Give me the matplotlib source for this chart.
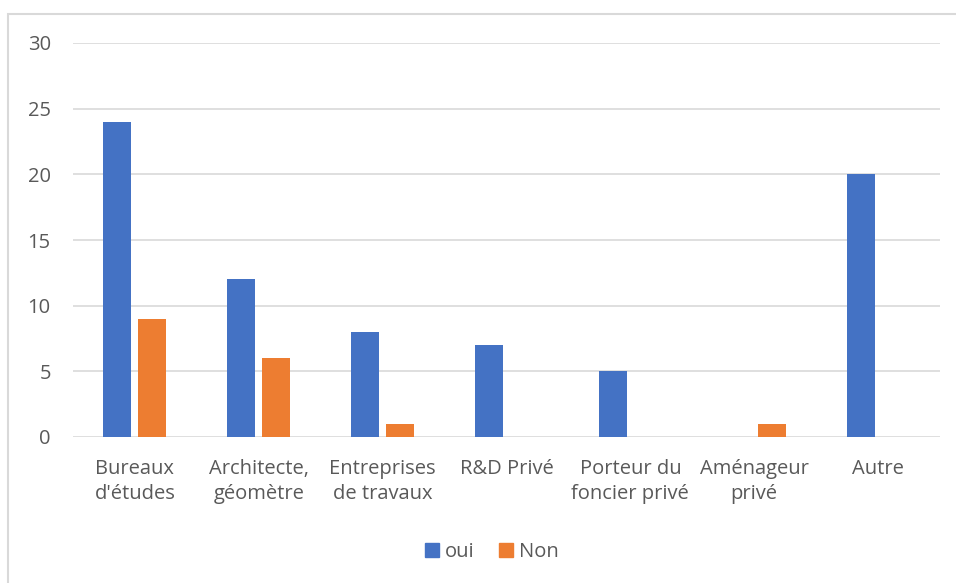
import numpy as np
import matplotlib
matplotlib.use("Agg")
import matplotlib.pyplot as plt
from matplotlib.patches import Rectangle, Patch

categories = ["Bureaux\nd'études", "Architecte,\ngéomètre", "Entreprises\nde travaux",
              "R&D Privé", "Porteur du\nfoncier privé", "Aménageur\nprivé", "Autre"]
oui = [24, 12, 8, 7, 5, 0, 20]
non = [9, 6, 1, 0, 0, 1, 0]
series_names = ["oui", "Non"]
yticks = [0, 5, 10, 15, 20, 25, 30]

W, H = 956, 583
plt.rcParams['font.family'] = ['Open Sans', 'DejaVu Sans']
text_col = '#595959'

fig = plt.figure(figsize=(W / 100, H / 100), dpi=100)

# outer chart frame (runs off the right/bottom edge like the screenshot)
fig.patches.append(Rectangle((8 / W, -0.05), 1.1, 1 - 14 / H + 0.05,
                             transform=fig.transFigure, fill=False,
                             edgecolor='#d9d9d9', linewidth=1.5))

left, right, top, bottom = 73, 940, 43, 437
ax = fig.add_axes([left / W, 1 - bottom / H, (right - left) / W, (bottom - top) / H])

x = np.arange(len(categories))
bw = 0.226
off = 0.141
ax.bar(x - off, oui, bw, color='#4472C4', zorder=3)
ax.bar(x + off, non, bw, color='#ED7D31', zorder=3)

ax.set_xlim(-0.5, len(categories) - 0.5)
ax.set_ylim(0, 30)
ax.set_yticks(yticks)
ax.set_xticks(x)
ax.set_xticklabels(categories, linespacing=1.35)
ax.grid(axis='y', color='#d9d9d9', linewidth=1.2, zorder=0)
for s in ax.spines.values():
    s.set_visible(False)
ax.tick_params(axis='both', length=0, labelsize=14.5, colors=text_col)
ax.tick_params(axis='y', pad=16)
ax.tick_params(axis='x', pad=16)

handles = [Patch(color='#4472C4'), Patch(color='#ED7D31')]
fig.legend(handles, series_names, loc='center', bbox_to_anchor=(492 / W, 1 - 552 / H),
           ncol=2, frameon=False, fontsize=14.5, labelcolor=text_col,
           handlelength=0.7, handleheight=0.7, handletextpad=0.3, columnspacing=1.2)

fig.savefig("out.png", dpi=100)
